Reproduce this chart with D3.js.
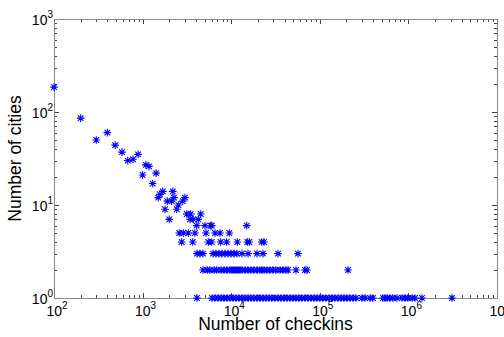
<!DOCTYPE html>
<html>
<head>
<meta charset="utf-8">
<script src="https://cdn.jsdelivr.net/npm/d3@7"></script>
<style>
  body { margin: 0; background: #fff; }
  svg { display: block; font-family: "Liberation Sans", Arial, sans-serif; }
</style>
</head>
<body>
<div id="plot"></div>
<script>
// checkins vs number of cities

// cities with many checkin-value ties (count >= 6): [checkins, cities]
const upperPoints = [
    [100, 185], [200, 86], [300, 50], [400, 60], [490, 44], [585, 37],
    [680, 30], [780, 31], [890, 35], [1000, 21], [1090, 27], [1180, 26],
    [1300, 17], [1420, 22], [1500, 12], [1570, 13], [1690, 14], [1790, 9],
    [1900, 11], [2000, 7], [2130, 11], [2190, 14], [2260, 12], [2430, 9],
    [2530, 10], [2840, 11], [3010, 12], [3150, 8], [3430, 7], [3490, 8],
    [3740, 7], [4080, 6], [4250, 7], [4530, 8], [5060, 6], [5870, 6],
    [6030, 6], [14960, 6]
];

const fiveCities = [2590, 2880, 3280, 3900, 5200, 6560, 7480, 9520];

const fourCities = [2760, 3680, 5520, 6030, 7610, 8890, 11720, 15200, 16000, 22090, 23450];

const threeCities = [4110, 4440, 4800, 6230, 6730, 7280, 7870, 8510, 9200, 9950,
    10760, 11620, 13240, 15490, 19550, 22860, 33740, 56760];

const twoCities = [4800, 5330, 5760, 6400, 6900, 7670, 8290, 8970, 9690, 10210,
    10750, 11330, 11930, 12570, 13240, 14320, 15470, 16730, 18090, 19550,
    21140, 22270, 23460, 25360, 27410, 29630, 32030, 35540, 38430, 41550,
    43770, 53870, 68080, 71710, 208100];

const oneCity = [4110, 6070, 6560, 7100, 7670, 8290, 8970,
    9700, 10500, 11300, 12200, 13200, 14300, 15500, 16700, 18100, 19500,
    21100, 22800, 24700, 26700, 28800, 31200, 33700, 36400, 39400, 42600,
    46000, 49700, 53800, 58100, 62800, 67900, 73400, 79400, 85800, 92700,
    100000, 108000, 117000, 127000, 137000, 148000,
    160500, 173500, 187500, 202700, 219300, 237000, 256000, 299000, 324000,
    369000, 398000, 516000, 545000, 573000, 619000, 670000, 743000, 846000,
    916000, 989000, 1099000, 1186000, 1423000, 3105000];

const xDecades = [2, 3, 4, 5, 6, 7];
const yDecades = [0, 1, 2, 3];

// build one list of points
const points = upperPoints.map(d => ({ x: d[0], y: d[1] }))
    .concat(fiveCities.map(v => ({ x: v, y: 5 })))
    .concat(fourCities.map(v => ({ x: v, y: 4 })))
    .concat(threeCities.map(v => ({ x: v, y: 3 })))
    .concat(twoCities.map(v => ({ x: v, y: 2 })))
    .concat(oneCity.map(v => ({ x: v, y: 1 })));

const width = 504, height = 337;
const margin = { top: 19, right: 7, bottom: 39, left: 54 };
const innerWidth = width - margin.left - margin.right;
const innerHeight = height - margin.top - margin.bottom;

const svg = d3.select("#plot").append("svg")
    .attr("width", width)
    .attr("height", height);

const g = svg.append("g")
    .attr("transform", `translate(${margin.left},${margin.top})`);

const x = d3.scaleLog().domain([1e2, 1e7]).range([0, innerWidth]);
const y = d3.scaleLog().domain([1, 1e3]).range([innerHeight, 0]);

// minor + major tick positions
const xMinor = [], yMinor = [];
xDecades.slice(0, -1).forEach(e => { for (let k = 2; k <= 9; k++) xMinor.push(k * Math.pow(10, e)); });
yDecades.slice(0, -1).forEach(e => { for (let k = 2; k <= 9; k++) yMinor.push(k * Math.pow(10, e)); });

const tickColor = "#444";
const ticks = g.append("g").attr("stroke", tickColor).attr("stroke-width", 1);

function drawXTicks(vals, len) {
    vals.forEach(v => {
        const px = Math.round(x(v)) + 0.5;
        ticks.append("line").attr("x1", px).attr("x2", px).attr("y1", innerHeight).attr("y2", innerHeight - len);
        ticks.append("line").attr("x1", px).attr("x2", px).attr("y1", 0).attr("y2", len);
    });
}
function drawYTicks(vals, len) {
    vals.forEach(v => {
        const py = Math.round(y(v)) + 0.5;
        ticks.append("line").attr("x1", 0).attr("x2", len).attr("y1", py).attr("y2", py);
        ticks.append("line").attr("x1", innerWidth).attr("x2", innerWidth - len).attr("y1", py).attr("y2", py);
    });
}
drawXTicks(xMinor, 3);
drawXTicks(xDecades.map(e => Math.pow(10, e)), 5);
drawYTicks(yMinor, 3);
drawYTicks(yDecades.map(e => Math.pow(10, e)), 5);

// frame
g.append("rect")
    .attr("x", 0.5).attr("y", 0.5)
    .attr("width", innerWidth).attr("height", innerHeight)
    .attr("fill", "none")
    .attr("stroke", "#888")
    .attr("stroke-width", 1);

// tick labels with superscript exponents
xDecades.forEach(e => {
    const t = g.append("text")
        .attr("x", x(Math.pow(10, e)) + 3)
        .attr("y", innerHeight + 18)
        .attr("text-anchor", "middle")
        .attr("font-size", 14)
        .attr("fill", "#000");
    t.append("tspan").text("10");
    t.append("tspan").attr("font-size", 10).attr("dy", -7).text(e);
});

yDecades.forEach(e => {
    const t = g.append("text")
        .attr("x", -1)
        .attr("y", y(Math.pow(10, e)) + 6)
        .attr("text-anchor", "end")
        .attr("font-size", 14)
        .attr("fill", "#000");
    t.append("tspan").text("10");
    t.append("tspan").attr("font-size", 10).attr("dy", -7).text(e);
});

// axis titles
svg.append("text")
    .attr("x", margin.left + innerWidth / 2)
    .attr("y", 330)
    .attr("text-anchor", "middle")
    .attr("font-size", 17.5)
    .text("Number of checkins");

svg.append("text")
    .attr("transform", `translate(21,${margin.top + innerHeight / 2}) rotate(-90)`)
    .attr("text-anchor", "middle")
    .attr("font-size", 17.5)
    .text("Number of cities");

// asterisk markers
const r = 3.8, rd = 2.8;
const star = `M${-r},0H${r}M0,${-r}V${r}M${-rd},${-rd}L${rd},${rd}M${-rd},${rd}L${rd},${-rd}`;

g.append("g").selectAll("path")
    .data(points)
    .join("path")
    .attr("transform", d => `translate(${x(d.x)},${y(d.y)})`)
    .attr("d", star)
    .attr("fill", "none")
    .attr("stroke", "#0000ff")
    .attr("stroke-width", 1.1);
</script>
</body>
</html>
